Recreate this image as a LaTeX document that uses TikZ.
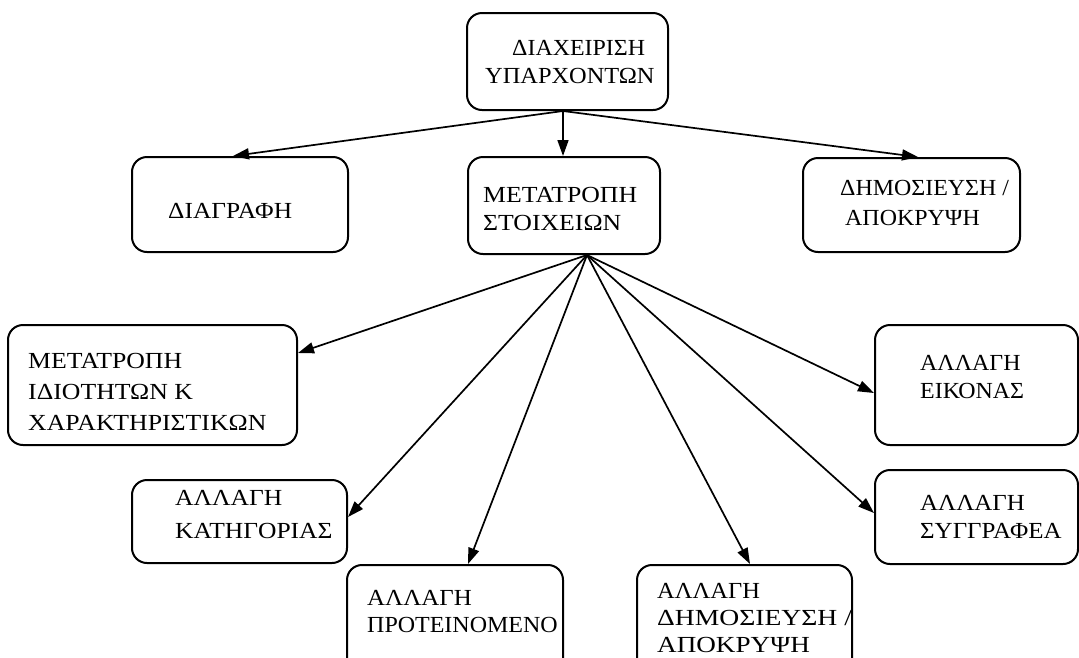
\documentclass[tikz,border=0pt]{standalone}
\usepackage{fontspec}
\usepackage{graphicx}
\setmainfont{Liberation Serif}
\usetikzlibrary{arrows.meta,calc}
% a line of box text, widened horizontally by the given factor
\newcommand\widen[2]{\hbox{\scalebox{#1}[1]{#2}}}
\begin{document}
\begin{tikzpicture}[x=1pt,y=-1pt,
  box/.style={draw, line width=2pt, rounded corners=15pt, inner sep=0pt},
  lbl/.style={anchor=base west, inner sep=0pt, font=\fontsize{23}{28}\selectfont},
  arr/.style={-{Triangle[length=16pt,width=11pt]}, line width=1.7pt},
]
\useasboundingbox (0,0) rectangle (1079,657);

% boxes
\node[box, minimum width=201pt, minimum height=97pt]  (top)   at (567.5,61.5) {};
\node[box, minimum width=216pt, minimum height=95pt]  (del)   at (240,204.5)  {};
\node[box, minimum width=192pt, minimum height=97pt]  (mod)   at (564,205.5)  {};
\node[box, minimum width=217pt, minimum height=94pt]  (pub)   at (911.5,205)  {};
\node[box, minimum width=289pt, minimum height=120pt] (props) at (152.5,385)   {};
\node[box, minimum width=203pt, minimum height=120pt] (img)   at (976.5,385)   {};
\node[box, minimum width=215pt, minimum height=83pt]  (cat)   at (239.5,521.5) {};
\node[box, minimum width=203pt, minimum height=94pt]  (auth)  at (976.5,517)   {};
\node[box, minimum width=216pt, minimum height=125pt] (sugg)  at (455,627.5)   {};
\node[box, minimum width=215pt, minimum height=125pt] (pubch) at (744.5,627.5) {};

% texts
\node[lbl] (topA) at (512,55) {\widen{1.04}{ΔΙΑΧΕΙΡΙΣΗ}};
\node[lbl] (topB) at (485,83) {\widen{1.06}{ΥΠΑΡΧΟΝΤΩΝ}};
\node[lbl] (delT) at (168,218) {\widen{1.105}{ΔΙΑΓΡΑΦΗ}};
\node[lbl] (modT) at (483,202)
  {\vtop{\widen{1.12}{ΜΕΤΑΤΡΟΠΗ}\widen{1.12}{ΣΤΟΙΧΕΙΩΝ}}};
\node[lbl] (pubA) at (840,195) {\widen{1.04}{ΔΗΜΟΣΙΕΥΣΗ /}};
\node[lbl] (pubB) at (845,225) {\widen{1.04}{ΑΠΟΚΡΥΨΗ}};
\node[lbl, font=\fontsize{23}{31}\selectfont] (propsT) at (28,368)
  {\vtop{\widen{1.12}{ΜΕΤΑΤΡΟΠΗ}\widen{1.12}{ΙΔΙΟΤΗΤΩΝ Κ}\widen{1.12}{ΧΑΡΑΚΤΗΡΙΣΤΙΚΩΝ}}};
\node[lbl] (imgT) at (920,370)
  {\vtop{\widen{1.04}{ΑΛΛΑΓΗ}\widen{1.04}{ΕΙΚΟΝΑΣ}}};
\node[lbl, font=\fontsize{23}{33}\selectfont] (catT) at (175,505)
  {\vtop{\widen{1.11}{ΑΛΛΑΓΗ}\widen{1.11}{ΚΑΤΗΓΟΡΙΑΣ}}};
\node[lbl] (authT) at (920,510)
  {\vtop{\widen{1.085}{ΑΛΛΑΓΗ}\widen{1.085}{ΣΥΓΓΡΑΦΕΑ}}};
\node[lbl, font=\fontsize{23}{27}\selectfont] (suggT) at (367,605)
  {\vtop{\widen{1.085}{ΑΛΛΑΓΗ}\widen{1.043}{ΠΡΟΤΕΙΝΟΜΕΝΟ}}};
\node[lbl, font=\fontsize{23}{27}\selectfont] (pubchT) at (657,598)
  {\vtop{\widen{1.065}{ΑΛΛΑΓΗ}\widen{1.2}{ΔΗΜΟΣΙΕΥΣΗ /}\widen{1.18}{ΑΠΟΚΡΥΨΗ}}};

% connectors from the top box
\draw[arr] (top.south -| 563,0) -- (del.north -| 233,0);
\draw[arr] (top.south -| 563,0) -- (mod.north -| 563,0);
\draw[arr] (top.south -| 563,0) -- (pub.north -| 918,0);

% fan of connectors below the middle box
\coordinate (fan) at (mod.south -| 587,0);
\draw[arr] (fan) -- (props.east |- 0,353);
\draw[arr] (fan) -- (cat.east |- 0,517);
\draw[arr] (fan) -- (sugg.north -| 468,0);
\draw[arr] (fan) -- (pubch.north -| 750,0);
\draw[arr] (fan) -- (auth.west |- 0,513);
\draw[arr] (fan) -- (img.west |- 0,393);
\end{tikzpicture}
\end{document}
